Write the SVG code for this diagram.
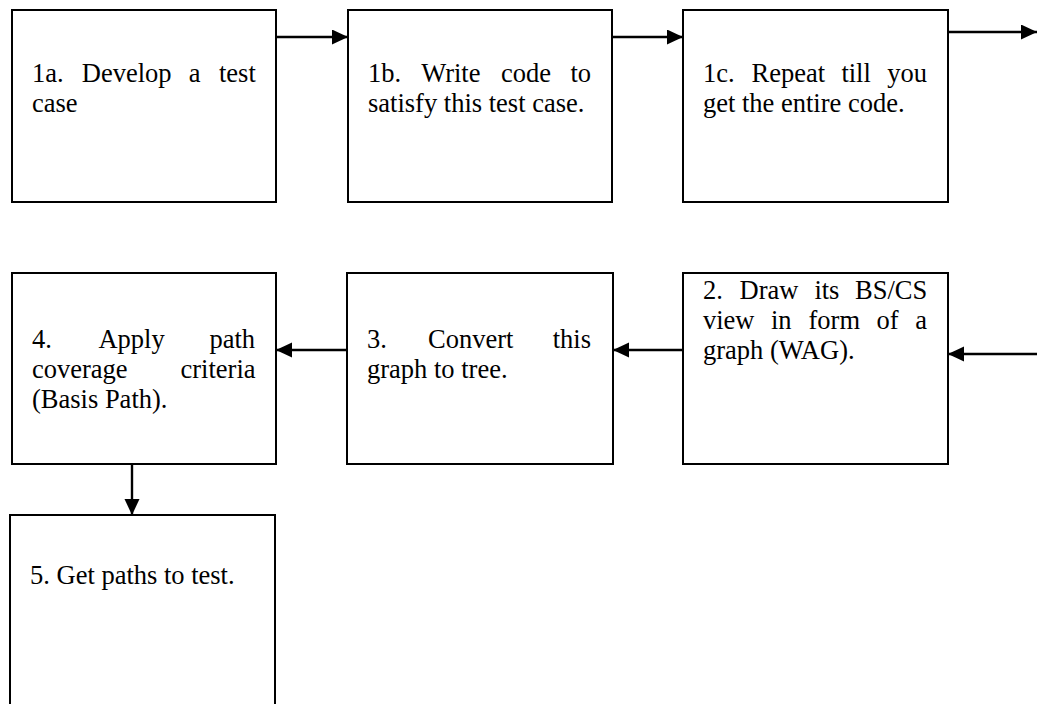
<svg xmlns="http://www.w3.org/2000/svg" width="1037" height="704" viewBox="0 0 1037 704">
<style>
.box{fill:#fff;stroke:#000;stroke-width:2}
.lbl{font-family:"Liberation Serif","Times New Roman",serif;font-size:26.5px;fill:#000}
.con{stroke:#000;stroke-width:2.4;fill:none}
</style>
<defs>
<marker id="ah" markerUnits="userSpaceOnUse" markerWidth="18" markerHeight="16" refX="16" refY="7.5" orient="auto">
<path d="M0,0 L16,7.5 L0,15 Z" fill="#000"/>
</marker>
</defs>
<rect width="1037" height="704" fill="#fff"/>
<g id="connectors">
<line class="con" x1="276" y1="37" x2="348" y2="37" marker-end="url(#ah)"/>
<line class="con" x1="612" y1="37" x2="683" y2="37" marker-end="url(#ah)"/>
<line class="con" x1="948" y1="32" x2="1037" y2="32" marker-end="url(#ah)"/>
<line class="con" x1="1037" y1="354" x2="948" y2="354" marker-end="url(#ah)"/>
<line class="con" x1="683" y1="350" x2="613" y2="350" marker-end="url(#ah)"/>
<line class="con" x1="347" y1="350" x2="276" y2="350" marker-end="url(#ah)"/>
<line class="con" x1="132" y1="464" x2="132" y2="515" marker-end="url(#ah)"/>
</g>
<g id="n1a">
<rect class="box" x="12" y="10" width="264" height="192"/>
<text class="lbl" y="82"><tspan x="32">1a.</tspan><tspan x="81.8">Develop</tspan><tspan x="188.7">a</tspan><tspan x="219">test</tspan></text>
<text class="lbl" x="32" y="112">case</text>
</g>
<g id="n1b">
<rect class="box" x="348" y="10" width="264" height="192"/>
<text class="lbl" y="82"><tspan x="368">1b.</tspan><tspan x="421.2">Write</tspan><tspan x="501.1">code</tspan><tspan x="570.5">to</tspan></text>
<text class="lbl" x="368" y="112">satisfy this test case.</text>
</g>
<g id="n1c">
<rect class="box" x="683" y="10" width="265" height="192"/>
<text class="lbl" y="82"><tspan x="703">1c.</tspan><tspan x="751.6">Repeat</tspan><tspan x="841.4">till</tspan><tspan x="887.2">you</tspan></text>
<text class="lbl" x="703" y="112">get the entire code.</text>
</g>
<g id="n2">
<rect class="box" x="683" y="273" width="265" height="191"/>
<text class="lbl" y="299"><tspan x="703">2.</tspan><tspan x="739.6">Draw</tspan><tspan x="814.4">its</tspan><tspan x="855">BS/CS</tspan></text>
<text class="lbl" y="329"><tspan x="703">view</tspan><tspan x="770.9">in</tspan><tspan x="808.5">form</tspan><tspan x="876.4">of</tspan><tspan x="915.2">a</tspan></text>
<text class="lbl" x="703" y="359">graph (WAG).</text>
</g>
<g id="n3">
<rect class="box" x="347" y="273" width="266" height="191"/>
<text class="lbl" y="348"><tspan x="367">3.</tspan><tspan x="428.1">Convert</tspan><tspan x="552.7">this</tspan></text>
<text class="lbl" x="367" y="378">graph to tree.</text>
</g>
<g id="n4">
<rect class="box" x="12" y="273" width="264" height="191"/>
<text class="lbl" y="348"><tspan x="32">4.</tspan><tspan x="98.4">Apply</tspan><tspan x="209.5">path</tspan></text>
<text class="lbl" y="378"><tspan x="32">coverage</tspan><tspan x="180.5">criteria</tspan></text>
<text class="lbl" x="32" y="408">(Basis Path).</text>
</g>
<g id="n5">
<rect class="box" x="10" y="515" width="265" height="200"/>
<text class="lbl" x="30" y="584">5. Get paths to test.</text>
</g>
</svg>
